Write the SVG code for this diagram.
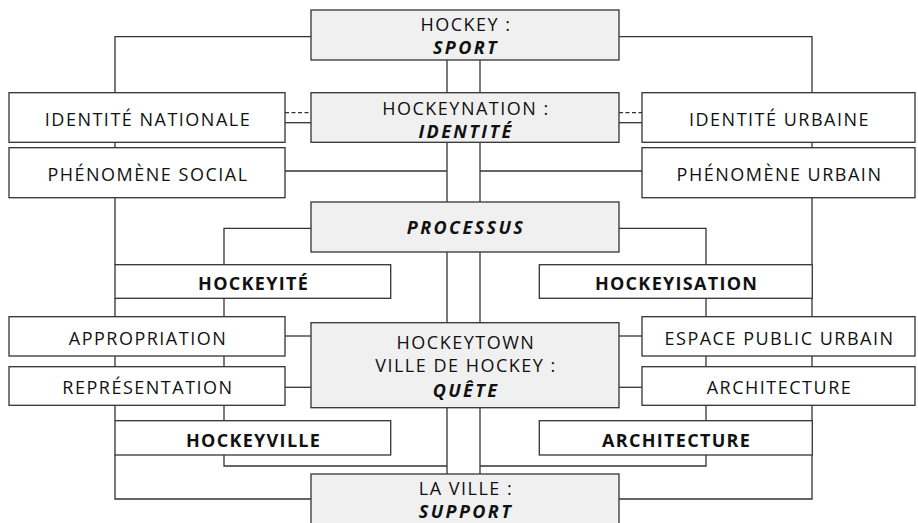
<svg xmlns="http://www.w3.org/2000/svg" width="918" height="523" viewBox="0 0 918 523">
<style>
.b{fill:#ffffff;stroke:#333333;stroke-width:1.3}
.c{fill:#f0f0f0;stroke:#333333;stroke-width:1.3}
.l{fill:none;stroke:#333333;stroke-width:1.3}
.d{fill:none;stroke:#333333;stroke-width:1.3;stroke-dasharray:4,2.5}
text{font-family:"Open Sans","DejaVu Sans",sans-serif;font-size:18px;fill:#111111;text-anchor:middle;letter-spacing:1.5px}
.bd{font-weight:bold;letter-spacing:1.3px}
.bi{font-weight:bold;font-style:italic;letter-spacing:2.4px}
</style>
<rect width="918" height="523" fill="#ffffff"/>
<g id="connectors">
<polyline class="l" points="311,36.7 115,36.7 115,92.7"/>
<polyline class="l" points="619,36.7 812,36.7 812,92.7"/>
<line class="l" x1="447" y1="60" x2="447" y2="92.7"/>
<line class="l" x1="480" y1="60" x2="480" y2="92.7"/>
<line class="d" x1="285" y1="112.7" x2="311" y2="112.7"/>
<line class="l" x1="285" y1="122.7" x2="311" y2="122.7"/>
<line class="d" x1="619" y1="112.7" x2="642" y2="112.7"/>
<line class="l" x1="619" y1="122.7" x2="642" y2="122.7"/>
<line class="l" x1="115" y1="142.3" x2="115" y2="147.7"/>
<line class="l" x1="812" y1="142.3" x2="812" y2="147.7"/>
<line class="l" x1="447" y1="142.3" x2="447" y2="202"/>
<line class="l" x1="480" y1="142.3" x2="480" y2="202"/>
<line class="l" x1="285" y1="171" x2="447" y2="171"/>
<line class="l" x1="480" y1="171" x2="642" y2="171"/>
<line class="l" x1="115" y1="197.7" x2="115" y2="264.7"/>
<line class="l" x1="812" y1="197.7" x2="812" y2="264.7"/>
<polyline class="l" points="311,228.3 224,228.3 224,264.7"/>
<polyline class="l" points="619,228.3 706,228.3 706,264.7"/>
<line class="l" x1="447" y1="252" x2="447" y2="322.7"/>
<line class="l" x1="480" y1="252" x2="480" y2="322.7"/>
<line class="l" x1="115" y1="298.3" x2="115" y2="316.7"/>
<line class="l" x1="224" y1="298.3" x2="224" y2="316.7"/>
<line class="l" x1="706" y1="298.3" x2="706" y2="316.7"/>
<line class="l" x1="812" y1="298.3" x2="812" y2="316.7"/>
<line class="l" x1="285" y1="336" x2="311" y2="336"/>
<line class="l" x1="619" y1="336" x2="642" y2="336"/>
<line class="l" x1="115" y1="356" x2="115" y2="366.7"/>
<line class="l" x1="224" y1="356" x2="224" y2="366.7"/>
<line class="l" x1="706" y1="356" x2="706" y2="366.7"/>
<line class="l" x1="812" y1="356" x2="812" y2="366.7"/>
<line class="l" x1="285" y1="387.3" x2="311" y2="387.3"/>
<line class="l" x1="619" y1="387.3" x2="642" y2="387.3"/>
<line class="l" x1="115" y1="405.3" x2="115" y2="420.7"/>
<line class="l" x1="224" y1="405.3" x2="224" y2="420.7"/>
<line class="l" x1="706" y1="405.3" x2="706" y2="420.7"/>
<line class="l" x1="812" y1="405.3" x2="812" y2="420.7"/>
<line class="l" x1="447" y1="407.7" x2="447" y2="474"/>
<line class="l" x1="480" y1="407.7" x2="480" y2="474"/>
<polyline class="l" points="224,455 224,466 447,466"/>
<polyline class="l" points="706,455 706,466 480,466"/>
<polyline class="l" points="115,455 115,499 311,499"/>
<polyline class="l" points="812,455 812,499 619,499"/>
</g>
<g id="sport"><rect class="c" x="311" y="10" width="308" height="50"/><text x="466" y="31">HOCKEY :</text><text class="bi" x="466" y="54.3">SPORT</text></g>
<g id="identite-nationale"><rect class="b" x="9" y="92.7" width="276" height="49.6"/><text x="148" y="126">IDENTITÉ NATIONALE</text></g>
<g id="hockeynation"><rect class="c" x="311" y="92.7" width="308" height="49.6"/><text x="466" y="114.5">HOCKEYNATION :</text><text class="bi" x="466" y="137.5">IDENTITÉ</text></g>
<g id="identite-urbaine"><rect class="b" x="642" y="92.7" width="273" height="49.6"/><text x="779.5" y="126">IDENTITÉ URBAINE</text></g>
<g id="phenomene-social"><rect class="b" x="9" y="147.7" width="276" height="50"/><text x="148" y="181">PHÉNOMÈNE SOCIAL</text></g>
<g id="phenomene-urbain"><rect class="b" x="642" y="147.7" width="273" height="50"/><text x="779.5" y="181">PHÉNOMÈNE URBAIN</text></g>
<g id="processus"><rect class="c" x="311" y="202" width="308" height="50"/><text class="bi" x="466" y="234.3">PROCESSUS</text></g>
<g id="hockeyite"><rect class="b" x="115" y="264.7" width="275.7" height="33.6"/><text class="bd" x="253.6" y="290">HOCKEYITÉ</text></g>
<g id="hockeyisation"><rect class="b" x="539.3" y="264.7" width="273" height="33.6"/><text class="bd" x="676.6" y="290">HOCKEYISATION</text></g>
<g id="appropriation"><rect class="b" x="9" y="316.7" width="276" height="39.3"/><text x="148" y="345">APPROPRIATION</text></g>
<g id="espace-public"><rect class="b" x="642" y="316.7" width="273" height="39.3"/><text x="779.5" y="345">ESPACE PUBLIC URBAIN</text></g>
<g id="hockeytown"><rect class="c" x="311" y="322.7" width="308" height="85"/><text x="466" y="349">HOCKEYTOWN</text><text x="466" y="372.3">VILLE DE HOCKEY :</text><text class="bi" x="466" y="396.7">QUÊTE</text></g>
<g id="representation"><rect class="b" x="9" y="366.7" width="276" height="38.6"/><text x="148" y="394.4">REPRÉSENTATION</text></g>
<g id="architecture"><rect class="b" x="642" y="366.7" width="273" height="38.6"/><text x="779.5" y="394.4">ARCHITECTURE</text></g>
<g id="hockeyville"><rect class="b" x="115" y="420.7" width="275.7" height="34.3"/><text class="bd" x="253.6" y="446.5">HOCKEYVILLE</text></g>
<g id="architecture-bold"><rect class="b" x="539.3" y="420.7" width="273" height="34.3"/><text class="bd" x="676.6" y="446.5">ARCHITECTURE</text></g>
<g id="la-ville"><rect class="c" x="311" y="474" width="308" height="52"/><text x="466" y="495">LA VILLE :</text><text class="bi" x="466" y="518.3">SUPPORT</text></g>
</svg>
